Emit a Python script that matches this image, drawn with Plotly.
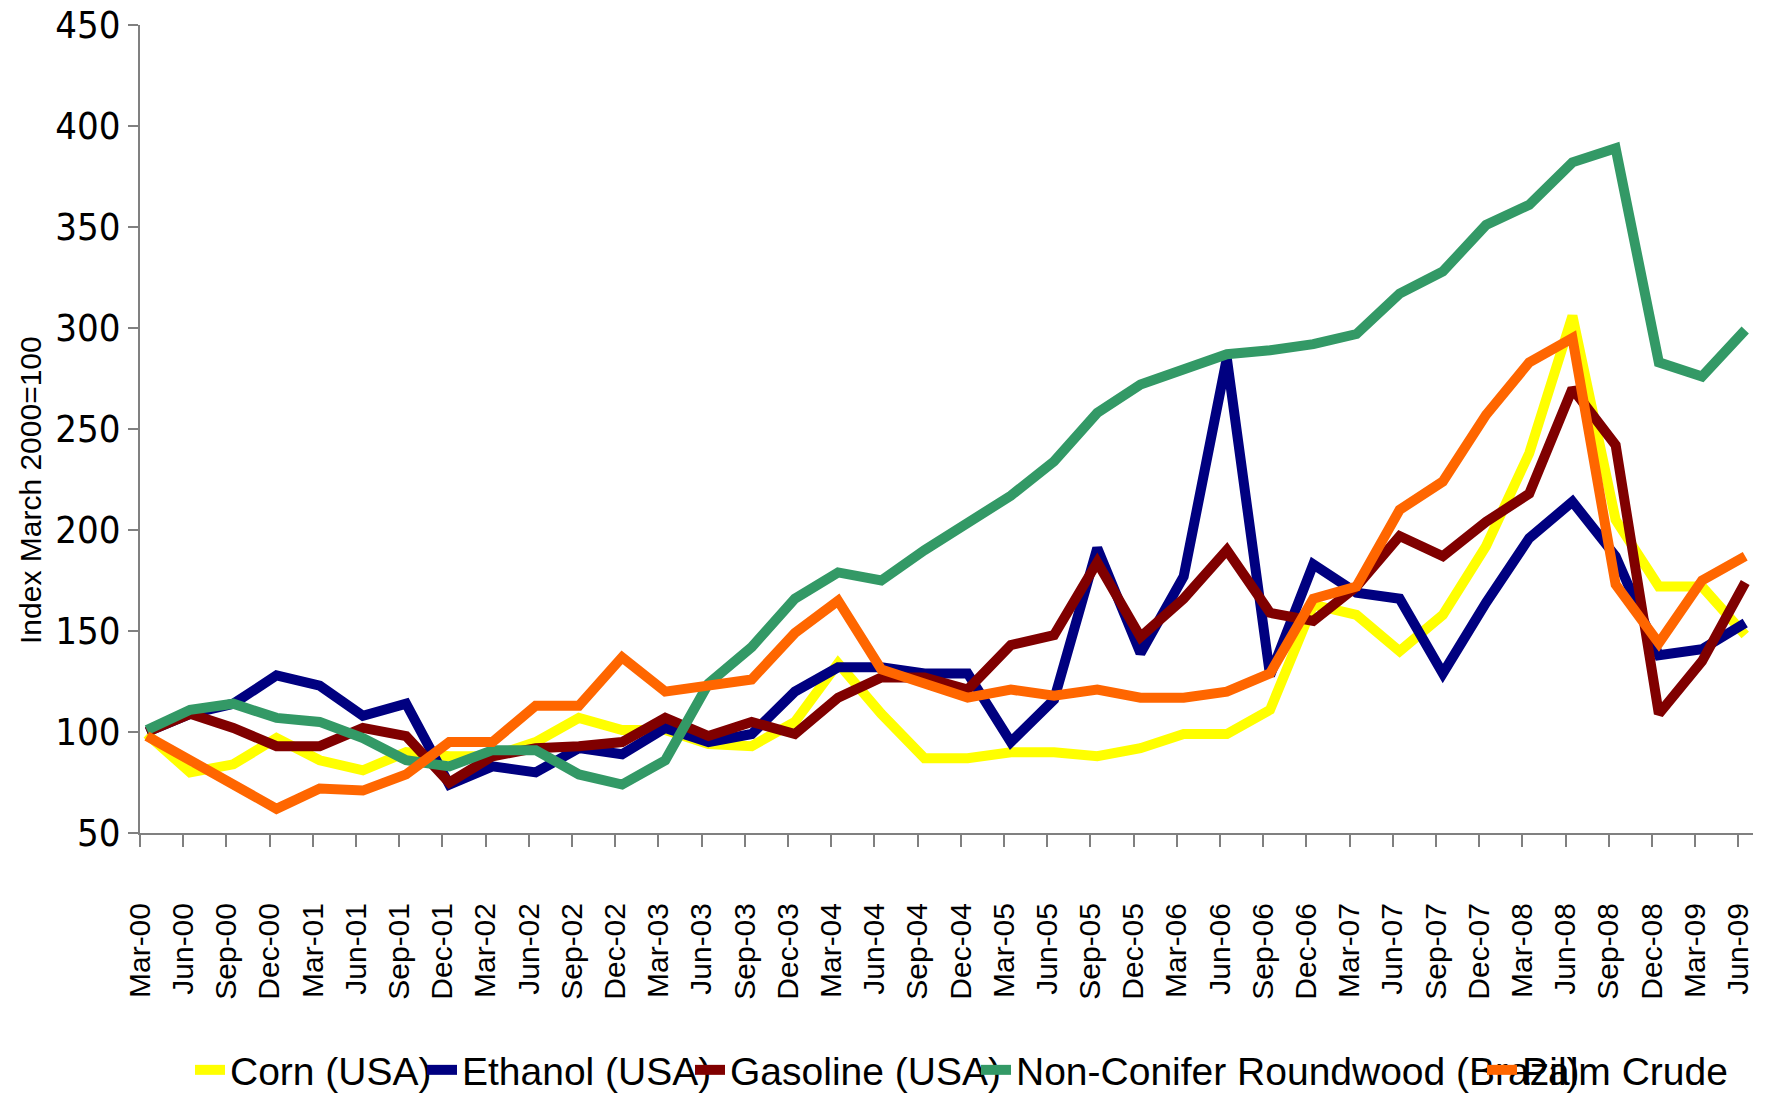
import plotly.graph_objects as go

categories = [
    "Mar-00", "Jun-00", "Sep-00", "Dec-00", "Mar-01", "Jun-01", "Sep-01", "Dec-01",
    "Mar-02", "Jun-02", "Sep-02", "Dec-02", "Mar-03", "Jun-03", "Sep-03", "Dec-03",
    "Mar-04", "Jun-04", "Sep-04", "Dec-04", "Mar-05", "Jun-05", "Sep-05", "Dec-05",
    "Mar-06", "Jun-06", "Sep-06", "Dec-06", "Mar-07", "Jun-07", "Sep-07", "Dec-07",
    "Mar-08", "Jun-08", "Sep-08", "Dec-08", "Mar-09", "Jun-09",
]

corn = [99, 80, 84, 97, 86, 81, 90, 88, 88, 95, 107, 101, 101, 94, 93, 105,
        134, 109, 87, 87, 90, 90, 88, 92, 99, 99, 111, 163, 158, 140, 158, 192,
        238, 306, 205, 172, 172, 148]
ethanol = [100, 109, 114, 128, 123, 108, 114, 74, 83, 80, 92, 89, 102, 95, 99, 120,
           132, 132, 129, 129, 95, 116, 191, 139, 177, 285, 128, 183, 169, 166, 129, 164,
           196, 214, 187, 138, 141, 154]
gasoline = [100, 109, 102, 93, 93, 102, 98, 75, 88, 92, 93, 95, 107, 98, 105, 99,
            117, 127, 127, 121, 143, 148, 184, 147, 166, 190, 159, 155, 172, 197, 187, 204,
            218, 270, 242, 109, 135, 174]
roundwood = [101, 111, 114, 107, 105, 97, 86, 83, 91, 91, 79, 74, 86, 124, 142, 166,
             179, 175, 190, 203, 217, 234, 258, 272, 279, 287, 289, 292, 297, 317, 328, 351,
             361, 382, 389, 283, 276, 299]
palm = [98, 86, 74, 62, 72, 71, 79, 95, 95, 113, 113, 137, 120, 123, 126, 149,
        165, 131, 124, 117, 121, 118, 121, 117, 117, 120, 129, 166, 172, 210, 224, 257,
        283, 295, 173, 144, 175, 187]

y_ticks = [50, 100, 150, 200, 250, 300, 350, 400, 450]

series = [
    ("Corn (USA)", corn, "#FFFF00", "legend"),
    ("Ethanol (USA)", ethanol, "#000080", "legend2"),
    ("Gasoline (USA)", gasoline, "#800000", "legend3"),
    ("Non-Conifer Roundwood (Brazil)", roundwood, "#339966", "legend4"),
    ("Palm Crude", palm, "#FF6600", "legend5"),
]

idx = list(range(len(categories)))
point_offset = 0.16  # data points sit slightly right of the tick marks
xs = [i + point_offset for i in idx]

fig = go.Figure()
for name, vals, color, lg in series:
    fig.add_trace(go.Scatter(
        x=xs, y=vals, name=name, mode="lines",
        line=dict(color=color, width=10),
        legend=lg,
    ))

W, H = 1766, 1093
ml, mr, mt, mb = 140, 13, 25, 260
pw = W - ml - mr
ph = H - mt - mb

def px_x(px):
    return (px - ml) / pw

narrow = "DejaVu Sans Condensed, Liberation Sans Narrow, Arial Narrow, Liberation Sans, sans-serif"
legend_font = dict(family="Liberation Sans, Arial, sans-serif", size=39, color="black")
leg_text_starts = [230, 462, 730, 1016, 1522]
leg_y = -(1070 - (mt + ph)) / ph
legend_layout = {}
for k, ts in enumerate(leg_text_starts):
    key = "legend" if k == 0 else f"legend{k+1}"
    legend_layout[key] = dict(
        x=px_x(ts - 40), y=leg_y, xanchor="left", yanchor="middle",
        orientation="h", font=legend_font, bgcolor="rgba(0,0,0,0)",
        borderwidth=0, itemwidth=30,
    )

fig.update_layout(
    width=W, height=H,
    margin=dict(l=ml, r=mr, t=mt, b=mb, autoexpand=False),
    paper_bgcolor="white", plot_bgcolor="white",
    showlegend=True,
    **legend_layout,
    xaxis=dict(
        range=[0, 37.34],
        tickmode="array", tickvals=idx, ticktext=categories,
        tickangle=-90,
        tickfont=dict(family="Liberation Sans, Arial, sans-serif", size=30, color="black"),
        ticks="outside", ticklen=12, tickwidth=1.5, tickcolor="#808080",
        showline=True, linecolor="#808080", linewidth=2,
        showgrid=False, zeroline=False,
        ticklabelstandoff=44, automargin=False,
    ),
    yaxis=dict(
        range=[50, 450],
        tickmode="array", tickvals=y_ticks,
        tickfont=dict(family=narrow, size=38, color="black"),
        ticks="outside", ticklen=10, tickwidth=1.5, tickcolor="#808080",
        showline=True, linecolor="#808080", linewidth=2,
        showgrid=False, zeroline=False, automargin=False,
    ),
    annotations=[dict(
        text="Index March 2000=100", textangle=-90,
        xref="paper", yref="paper",
        x=px_x(31), y=1 - (490 - mt) / ph,
        xanchor="center", yanchor="middle", showarrow=False,
        font=dict(family="Liberation Sans, Arial, sans-serif", size=30, color="black"),
    )],
)

fig.write_html(
    "out.html",
    config={"displayModeBar": False},
    post_script="document.body.style.margin='0';document.body.style.padding='0';document.body.style.overflow='hidden';",
)
